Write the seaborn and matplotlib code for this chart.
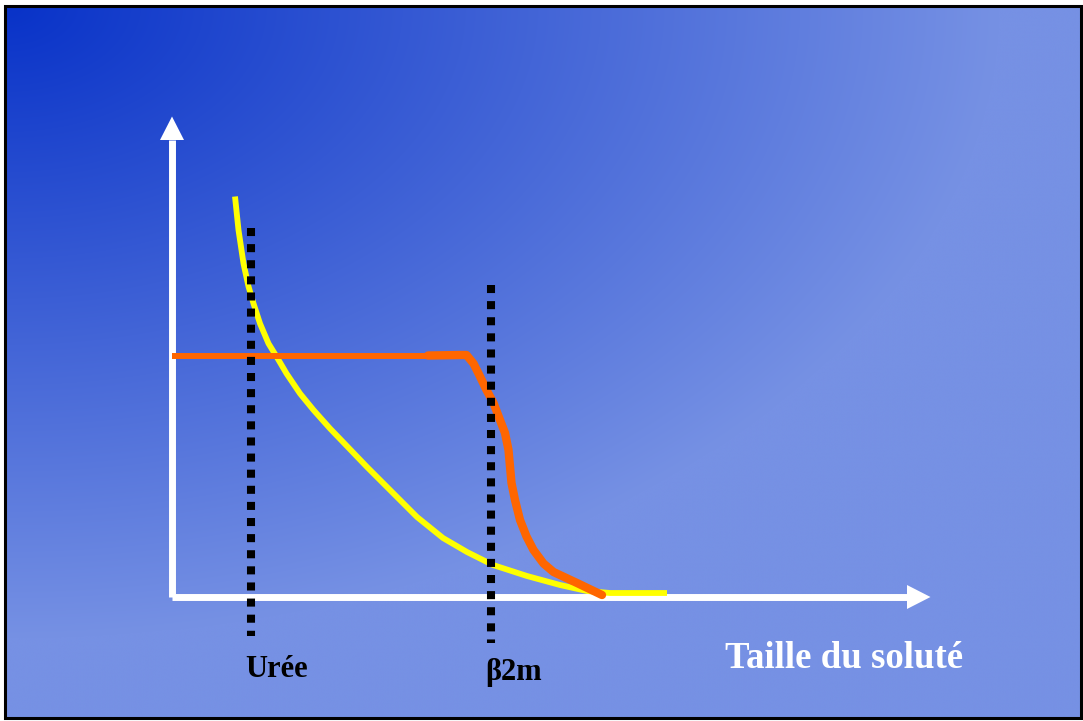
import numpy as np
import pandas as pd
import matplotlib.pyplot as plt
from matplotlib.patches import Rectangle
import seaborn as sns

# values (arbitrary units, origin at the axes corner)
yellow_x = [1.26, 1.33, 1.43, 1.53, 1.63, 1.76, 1.93, 2.09, 2.29, 2.56, 2.83, 3.16,
            3.42, 3.90, 4.36, 4.90, 5.42, 5.90, 6.42, 7.10, 7.76, 8.30, 8.76, 9.90]
yellow_y = [8.01, 7.34, 6.67, 6.21, 5.87, 5.47, 5.07, 4.81, 4.47, 4.07, 3.74, 3.37,
            3.10, 2.60, 2.14, 1.60, 1.18, 0.90, 0.64, 0.42, 0.24, 0.12, 0.08, 0.08]

# orange: flat plateau then the drop after the cut-off
orange_flat_x = [0.0, 5.12]
orange_flat_y = [4.82, 4.82]
orange_x = [5.12, 5.76, 5.89, 6.03, 6.16, 6.29, 6.43, 6.56, 6.66, 6.73, 6.76, 6.79,
            6.86, 6.96, 7.09, 7.23, 7.43, 7.63, 8.10, 8.60]
orange_y = [4.83, 4.84, 4.84, 4.67, 4.41, 4.14, 3.88, 3.54, 3.28, 2.94, 2.61, 2.28,
            1.94, 1.54, 1.21, 0.94, 0.67, 0.50, 0.28, 0.04]

# dotted markers
marker_names = ["Urée", "β2m"]
marker_x = [1.58, 6.38]
marker_top = [7.38, 6.24]
marker_bottom = [-0.78, -0.92]
marker_label_x = [1.46, 6.26]
marker_label_y = [-1.60, -1.66]

x_label = "Taille du soluté"

yellow = pd.DataFrame({"x": yellow_x, "y": yellow_y})
orange = pd.DataFrame({"x": orange_x, "y": orange_y})

sns.set_theme(style="white")
plt.rcParams['font.family'] = ['Liberation Serif', 'DejaVu Serif']

W, H = 1083, 721
fig = plt.figure(figsize=(W / 100, H / 100), dpi=100)
fig.patch.set_facecolor("white")

# slide background: radial gradient from the top-left corner
bg = fig.add_axes([0, 0, 1, 1])
xx, yy = np.meshgrid(np.arange(W), np.arange(H))
t = np.clip(np.sqrt((xx / 1000) ** 2 + (yy / 640) ** 2), 0, 1)
c0 = np.array([8, 50, 200]) / 255
c1 = np.array([118, 145, 228]) / 255
img = c0 + (c1 - c0) * t[..., None]
bg.imshow(img, extent=(5, 1081, 718, 5), aspect="auto", interpolation="bilinear")
bg.set_xlim(0, W)
bg.set_ylim(H, 0)
bg.add_patch(Rectangle((5, 5.5), 1075.5, 712, fill=False, edgecolor="black", lw=2.2))
bg.axis("off")

# main drawing area
ax = fig.add_axes([0, 0, 1, 1])
ax.patch.set_alpha(0)
ax.set_xlim(-3.44, 18.22)
ax.set_ylim(-2.48, 11.94)
ax.axis("off")

# white axes with arrow heads
x_end, y_end = 14.7, 9.14
head_len, head_w = 0.47, 0.24
ax.plot([0, x_end], [0, 0], color="white", lw=5, solid_capstyle="butt", zorder=2)
ax.plot([0, 0], [0, y_end], color="white", lw=5, solid_capstyle="butt", zorder=2)
ax.fill([x_end, x_end + head_len, x_end], [-head_w, 0, head_w], color="white", lw=0, zorder=2)
ax.fill([-head_w, 0, head_w], [y_end, y_end + head_len, y_end], color="white", lw=0, zorder=2)

# curves
sns.lineplot(data=yellow, x="x", y="y", color="#ffff00", linewidth=4.2, sort=False,
             estimator=None, solid_capstyle="butt", solid_joinstyle="round", ax=ax, zorder=3)
sns.lineplot(x=orange_flat_x, y=orange_flat_y, color="#ff6600", linewidth=4.3, sort=False,
             estimator=None, solid_capstyle="butt", ax=ax, zorder=4)
sns.lineplot(data=orange, x="x", y="y", color="#ff6600", linewidth=6, sort=False,
             estimator=None, solid_capstyle="round", solid_joinstyle="round", ax=ax, zorder=4)

# dotted vertical markers and their labels
for name, mx, top, bot, lx, ly in zip(marker_names, marker_x, marker_top, marker_bottom,
                                      marker_label_x, marker_label_y):
    ax.plot([mx, mx], [top, bot], color="black", lw=5.8, linestyle=(0, (1, 1)),
            dash_capstyle="butt", zorder=5)
    ax.text(lx, ly, name, fontsize=22, fontweight="bold", color="black",
            ha="left", va="baseline")

ax.text(11.06, -1.42, x_label, fontsize=26.5, fontweight="bold", color="white",
        ha="left", va="baseline")

fig.savefig("out.png", dpi=100)
